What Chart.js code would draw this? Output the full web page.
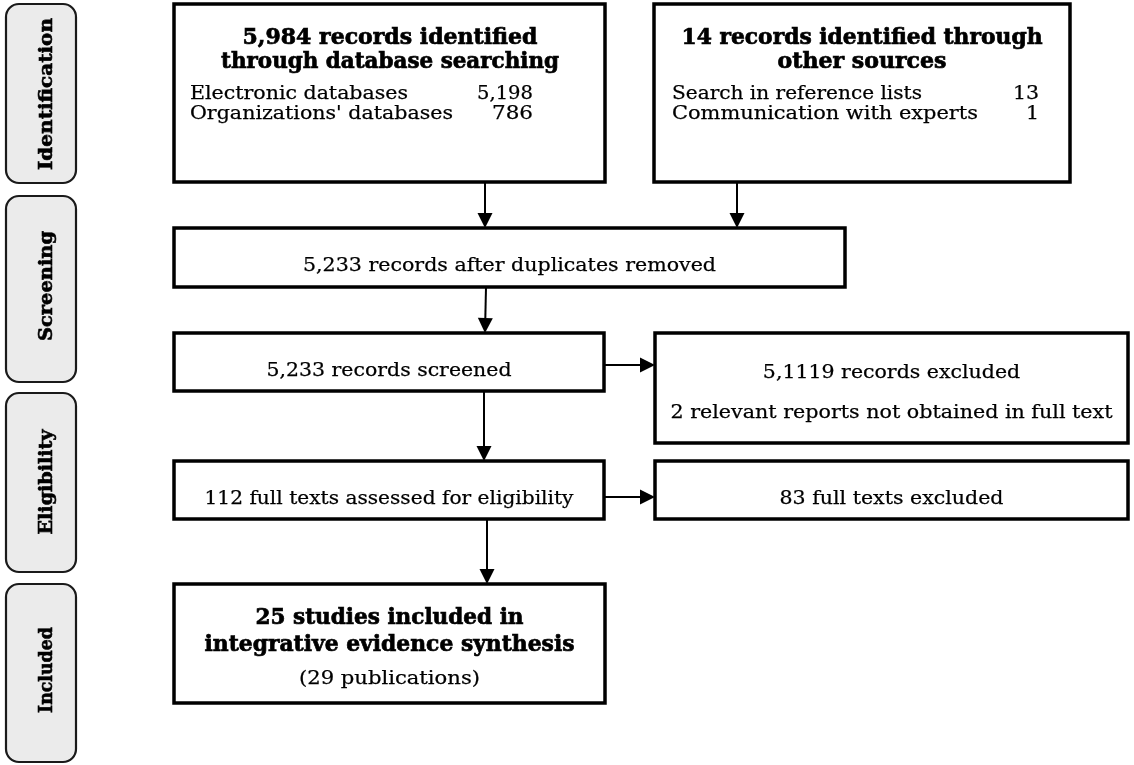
<!DOCTYPE html>
<html>
<head>
<meta charset="utf-8">
<script src="https://cdn.jsdelivr.net/npm/chart.js@4/dist/chart.umd.min.js"></script>
<style>
html,body{margin:0;padding:0;background:#fff;}
canvas{display:block;}
</style>
</head>
<body>
<canvas id="c" width="1134" height="765"></canvas>
<script>
// ---------- data ----------
const stages = ["Identification", "Screening", "Eligibility", "Included"];
const dbTitle = ["5,984 records identified", "through database searching"];
const dbSources = ["Electronic databases", "Organizations' databases"];
const dbCounts = [5198, 786];
const otherTitle = ["14 records identified through", "other sources"];
const otherSources = ["Search in reference lists", "Communication with experts"];
const otherCounts = [13, 1];
const dedupText = ["5,233 records after duplicates removed"];
const screenedText = ["5,233 records screened"];
const excludedText = ["5,1119 records excluded", "2 relevant reports not obtained in full text"];
const fullText = ["112 full texts assessed for eligibility"];
const fullExcludedText = ["83 full texts excluded"];
const includedTitle = ["25 studies included in", "integrative evidence synthesis"];
const includedSub = ["(29 publications)"];

// ---------- layout (chart value units = pixels of a 1134x765 frame) ----------
const stageBoxes = [[6, 4, 76, 183], [6, 196, 76, 382], [6, 393, 76, 572], [6, 584, 76, 762]];
const stageText = [[52, 94, 152], [52, 286, 110], [52, 482, 105], [52, 670, 86]];
const boxes = {
  A: [174, 4, 605, 182], B: [654, 4, 1070, 182], C: [174, 228, 845, 287],
  D: [174, 333, 604, 391], E: [655, 333, 1128, 443], F: [174, 461, 604, 519],
  G: [655, 461, 1128, 519], H: [174, 584, 605, 703]
};
const arrows = [
  [485, 182, 485, 228], [737, 182, 737, 228], [486, 287, 485, 333],
  [604, 365, 655, 365], [484, 391, 484, 461], [604, 497, 655, 497],
  [487, 519, 487, 584]
];

const BOLD = "bold 22px 'DejaVu Serif'";
const REG = "19px 'DejaVu Serif'";
const LAB = "bold 19px 'DejaVu Serif'";

const flowPlugin = {
  id: 'flow',
  afterDraw(chart) {
    const ctx = chart.ctx, sx = chart.scales.x, sy = chart.scales.y;
    const X = v => sx.getPixelForValue(v), Y = v => sy.getPixelForValue(v);
    let regScales = [];
    function fit(text, x, y, align, font, w) {
      ctx.save();
      ctx.font = font;
      const m = ctx.measureText(text).width;
      let s;
      if (w) { s = w / m; if (font === REG) regScales.push(s); }
      else { s = regScales.length ? regScales.reduce((a, b) => a + b, 0) / regScales.length : 1; }
      ctx.translate(X(x), Y(y));
      ctx.scale(s, 1);
      ctx.textAlign = align;
      ctx.textBaseline = 'alphabetic';
      ctx.fillStyle = '#000';
      ctx.fillText(text, 0, 0);
      if (font === BOLD) {
        ctx.lineWidth = 0.7;
        ctx.strokeStyle = '#000';
        ctx.strokeText(text, 0, 0);
      } else {
        ctx.lineWidth = 0.25;
        ctx.strokeStyle = '#000';
        ctx.strokeText(text, 0, 0);
      }
      ctx.restore();
    }
    // stage labels
    stageBoxes.forEach((b, i) => {
      const x0 = X(b[0]), y0 = Y(b[1]), x1 = X(b[2]), y1 = Y(b[3]);
      ctx.save();
      ctx.beginPath();
      ctx.roundRect(x0, y0, x1 - x0, y1 - y0, 13);
      ctx.fillStyle = '#ebebeb';
      ctx.fill();
      ctx.lineWidth = 2.2;
      ctx.strokeStyle = '#1a1a1a';
      ctx.stroke();
      ctx.restore();
      const t = stageText[i];
      ctx.save();
      ctx.font = LAB;
      const m = ctx.measureText(stages[i]).width;
      ctx.translate(X(t[0]), Y(t[1]));
      ctx.rotate(-Math.PI / 2);
      ctx.scale(t[2] / m, 1);
      ctx.textAlign = 'center';
      ctx.textBaseline = 'alphabetic';
      ctx.fillStyle = '#000';
      ctx.fillText(stages[i], 0, 0);
      ctx.lineWidth = 0.6;
      ctx.strokeStyle = '#000';
      ctx.strokeText(stages[i], 0, 0);
      ctx.restore();
    });
    // boxes
    Object.values(boxes).forEach(b => {
      ctx.save();
      ctx.lineWidth = 3.5;
      ctx.strokeStyle = '#000';
      ctx.fillStyle = '#fff';
      ctx.fillRect(X(b[0]), Y(b[1]), X(b[2]) - X(b[0]), Y(b[3]) - Y(b[1]));
      ctx.strokeRect(X(b[0]), Y(b[1]), X(b[2]) - X(b[0]), Y(b[3]) - Y(b[1]));
      ctx.restore();
    });
    // arrows
    arrows.forEach(a => {
      const x0 = X(a[0]), y0 = Y(a[1]), x1 = X(a[2]), y1 = Y(a[3]);
      const ang = Math.atan2(y1 - y0, x1 - x0);
      const L = 15, H = 7.5;
      const bx = x1 - L * Math.cos(ang), by = y1 - L * Math.sin(ang);
      ctx.save();
      ctx.strokeStyle = '#000';
      ctx.lineWidth = 2;
      ctx.beginPath();
      ctx.moveTo(x0, y0);
      ctx.lineTo(bx, by);
      ctx.stroke();
      ctx.beginPath();
      ctx.moveTo(x1, y1);
      ctx.lineTo(bx + H * Math.sin(ang), by - H * Math.cos(ang));
      ctx.lineTo(bx - H * Math.sin(ang), by + H * Math.cos(ang));
      ctx.closePath();
      ctx.fillStyle = '#000';
      ctx.fill();
      ctx.restore();
    });
    const fmt = n => n.toLocaleString('en-US');
    // box A
    fit(dbTitle[0], 390, 44, 'center', BOLD, 295);
    fit(dbTitle[1], 390, 68, 'center', BOLD, 338);
    fit(dbSources[0], 190, 99, 'left', REG, 218);
    fit(dbSources[1], 190, 119, 'left', REG, 263);
    fit(fmt(dbCounts[0]), 533, 99, 'right', REG, 56);
    fit(fmt(dbCounts[1]), 533, 119, 'right', REG, 41);
    // box B
    fit(otherTitle[0], 862, 44, 'center', BOLD, 361);
    fit(otherTitle[1], 862, 68, 'center', BOLD, 169);
    fit(otherSources[0], 672, 99, 'left', REG, 250);
    fit(otherSources[1], 672, 119, 'left', REG, 306);
    fit(fmt(otherCounts[0]), 1039, 99, 'right', REG, 0);
    fit(fmt(otherCounts[1]), 1039, 119, 'right', REG, 0);
    // box C..G
    fit(dedupText[0], 509.5, 271, 'center', REG, 413);
    fit(screenedText[0], 389, 376, 'center', REG, 245);
    fit(excludedText[1], 891.5, 418, 'center', REG, 442);
    fit(fullText[0], 389, 504, 'center', REG, 369);
    fit(fullExcludedText[0], 891.5, 504, 'center', REG, 224);
    fit(excludedText[0], 891.5, 378, 'center', REG, 0);
    // box H
    fit(includedTitle[0], 389.5, 624, 'center', BOLD, 268);
    fit(includedTitle[1], 389.5, 651, 'center', BOLD, 370);
    fit(includedSub[0], 389.5, 684, 'center', REG, 181);
  }
};

new Chart(document.getElementById('c'), {
  type: 'scatter',
  data: { datasets: [{ data: [], pointRadius: 0 }] },
  options: {
    responsive: false,
    animation: false,
    layout: { padding: 0 },
    plugins: { legend: { display: false }, tooltip: { enabled: false } },
    scales: {
      x: { type: 'linear', min: 0, max: 1134, display: false },
      y: { type: 'linear', min: 0, max: 765, reverse: true, display: false }
    }
  },
  plugins: [flowPlugin]
});
</script>
</body>
</html>
